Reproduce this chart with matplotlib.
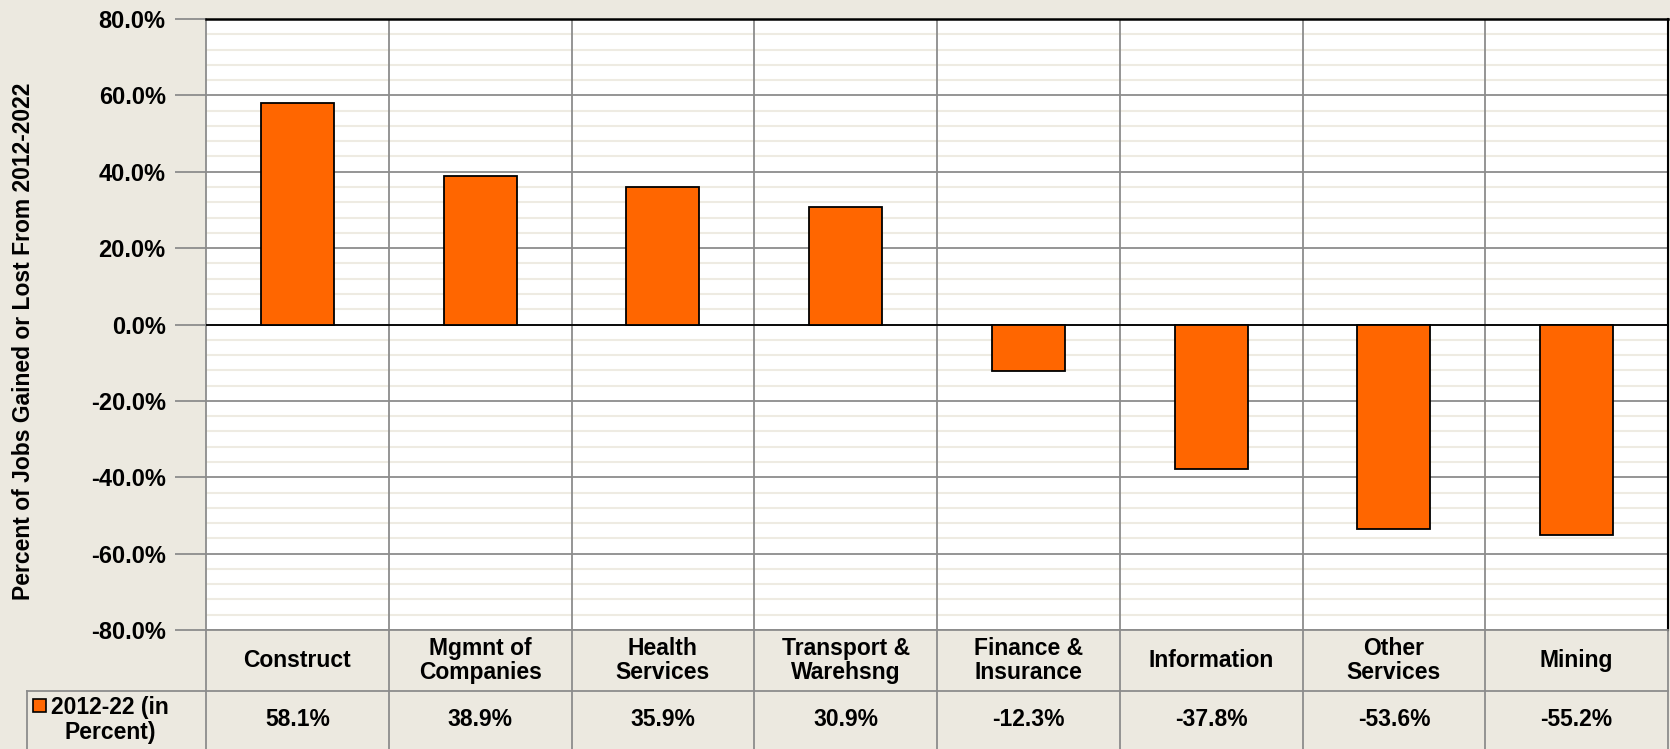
import numpy as np
import matplotlib.pyplot as plt
from matplotlib.patches import Rectangle
from matplotlib.ticker import MultipleLocator, FuncFormatter

# data
categories = ['Construct', 'Mgmnt of\nCompanies', 'Health\nServices', 'Transport &\nWarehsng',
              'Finance &\nInsurance', 'Information', 'Other\nServices', 'Mining']
values = [58.1, 38.9, 35.9, 30.9, -12.3, -37.8, -53.6, -55.2]
series_name = '2012-22 (in\nPercent)'
ylabel = 'Percent of Jobs Gained or Lost From 2012-2022'

bg = '#ECE9E0'
orange = '#FF6600'
gc = '#8C8C8C'
fs = 16.5
plt.rcParams['font.family'] = ['Liberation Sans', 'DejaVu Sans']
plt.rcParams['font.weight'] = 'bold'

fig = plt.figure(figsize=(16.7, 7.49), dpi=100, facecolor=bg)
ax = fig.add_axes([206/1670, 119/749, 1462/1670, 611/749])
ax.set_facecolor('white')
ax.set_axisbelow(True)

x = np.arange(len(categories))
ax.bar(x, values, width=0.4, color=orange, edgecolor='black', linewidth=1.3, zorder=4)

ax.set_xlim(-0.5, len(categories) - 0.5)
ax.set_ylim(-80, 80)
ax.yaxis.set_major_locator(MultipleLocator(20))
ax.yaxis.set_minor_locator(MultipleLocator(4))
ax.yaxis.set_major_formatter(FuncFormatter(lambda v, p: '%.1f%%' % v))
ax.grid(which='minor', axis='y', color='#EEEBE2', linewidth=1.5)
ax.grid(which='major', axis='y', color=gc, linewidth=1.3)
for b in np.arange(0.5, len(categories) - 0.5):
    ax.axvline(b, color=gc, linewidth=1.3, zorder=2)
ax.axhline(0, color='black', linewidth=1.3, zorder=3)

ax.set_xticks([])
ax.tick_params(axis='y', which='major', length=22, width=1.3, color=gc,
               labelsize=fs + 0.5, pad=7)
ax.tick_params(axis='y', which='minor', length=0)
for lbl in ax.get_yticklabels():
    lbl.set_fontweight('bold')
ax.spines['top'].set_color('black')
ax.spines['top'].set_linewidth(1.8)
ax.spines['right'].set_color('black')
ax.spines['right'].set_linewidth(1.5)
ax.spines['left'].set_color(gc)
ax.spines['left'].set_linewidth(1.3)
ax.spines['bottom'].set_color(gc)
ax.spines['bottom'].set_linewidth(1.3)

fig.text(24/1670, (749 - 341)/749, ylabel, rotation=90, ha='center', va='center',
         fontsize=fs, fontweight='bold')

# data table below the plot
row1 = -61/611
row2 = -119/611
tr = ax.get_xaxis_transform()
for b in np.arange(-0.5, len(categories)):
    ax.plot([b, b], [0, row2], transform=tr, color=gc, lw=1.3, clip_on=False)
leg_left = -0.5 - (206 - 27) / (1462 / len(categories))
ax.plot([leg_left, len(categories) - 0.5], [row1, row1], transform=tr, color=gc, lw=1.3, clip_on=False)
ax.plot([leg_left, leg_left], [row1, row2], transform=tr, color=gc, lw=1.3, clip_on=False)
for i, (c, v) in enumerate(zip(categories, values)):
    ax.text(i, row1 / 2, c, transform=tr, ha='center', va='center', fontsize=fs,
            fontweight='bold', linespacing=1.1)
    ax.text(i, (row1 + row2) / 2, '%.1f%%' % v, transform=tr, ha='center', va='center',
            fontsize=fs, fontweight='bold')
fig.text(110/1670, (749 - 720)/749, series_name, ha='center', va='center',
         fontsize=fs, fontweight='bold', linespacing=1.1)
fig.patches.append(Rectangle((33/1670, (749 - 712)/749), 13/1670, 13/749,
                             transform=fig.transFigure, facecolor=orange,
                             edgecolor='black', linewidth=1.2))

fig.savefig('out.png', dpi=100, facecolor=bg)
